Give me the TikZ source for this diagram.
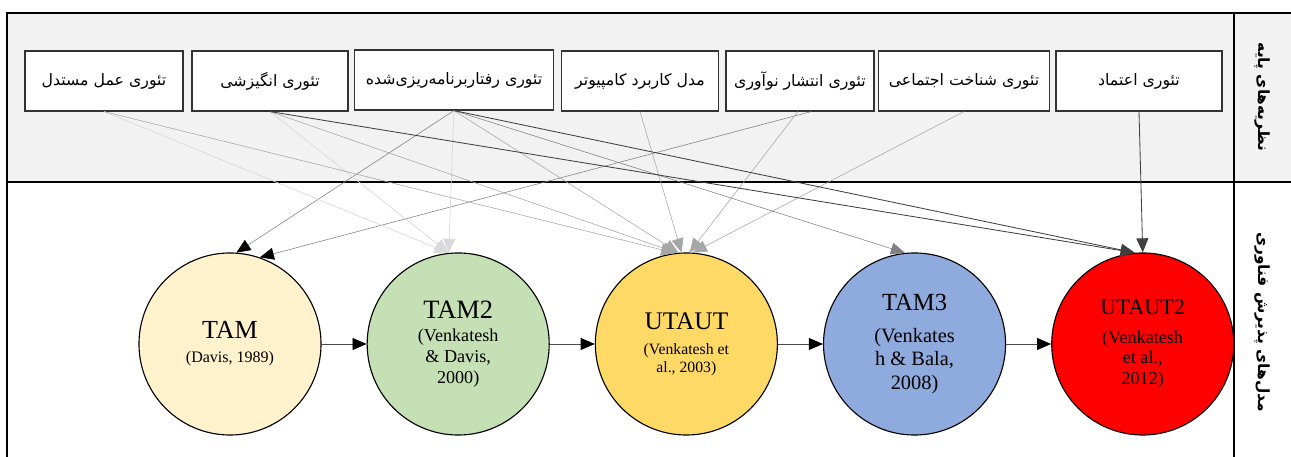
\documentclass[tikz,border=0pt]{standalone}
\usepackage{fontspec}
\setmainfont{Liberation Serif}
\newfontfamily\farsi[Script=Arabic]{DejaVu Sans}
\TeXXeTstate=1
\usetikzlibrary{arrows.meta,positioning}
\definecolor{panelgray}{HTML}{F2F2F2}
\definecolor{tamcol}{HTML}{FFF2CC}
\definecolor{tamtwocol}{HTML}{C5E0B4}
\definecolor{utautcol}{HTML}{FFD966}
\definecolor{tamthreecol}{HTML}{8FAADC}
\definecolor{utauttwocol}{HTML}{FF0000}
\newcommand{\fa}[1]{{\farsi\beginR #1\endR}}
\newcommand{\fsz}[2]{\fontsize{#1}{#2}\selectfont}

\begin{document}
\begin{tikzpicture}[x=0.025cm,y=-0.025cm,node distance=1.125cm,
  tip/.style={-{Triangle[length=10pt,width=8.5pt,color=#1]}},
  theory/.style={draw=black!80,fill=white,line width=0.8pt,minimum height=1.5cm,inner sep=2pt,font=\farsi\fsz{11.2}{13}},
  model/.style={circle,draw=black,line width=0.8pt,minimum size=4.55cm,inner sep=0pt,align=center},
  head/.style={rotate=-90,font=\farsi\bfseries\fsz{11}{13}},
  flow/.style={tip=black,draw=black!70,line width=0.6pt},
  totam/.style={tip=black,draw=gray,line width=0.4pt},
  totamtwo/.style={tip=black!15,draw=black!15,line width=0.5pt},
  toutaut/.style={tip=black!35,draw=black!35,line width=0.4pt},
  totamthree/.style={tip=black!50,draw=black!50,line width=0.4pt},
  toutauttwo/.style={tip=black!75,draw=black!75,line width=0.6pt}]
  \useasboundingbox (0,0) rectangle (1291,457);
  % panels
  \fill[panelgray] (7,13) rectangle (1291,182);
  \draw[line width=1pt] (1291,13) -- (7,13) -- (7,457);
  \draw[line width=1pt] (7,182) -- (1291,182);
  \draw[line width=1pt] (1234,13) -- (1234,457);
  \node[head] (basehead) at (1262,97) {\fa{نظریه‌های پایه}};
  \node[head] (modelhead) at (1262,322) {\fa{مدل‌های پذیرش فناوری}};
  % theories
  \node[theory,minimum width=3.95cm] (tra) at (104,81) {\fa{تئوری عمل مستدل}};
  \node[theory,minimum width=3.9cm] (mm) at (270,81) {\fa{تئوری انگیزشی}};
  \node[theory,minimum width=4.975cm] (tpb) at (454,80) {\fa{تئوری رفتاربرنامه‌ریزی‌شده}};
  \node[theory,minimum width=3.925cm] (mpcu) at (640,81) {\fa{مدل کاربرد کامپیوتر}};
  \node[theory,minimum width=3.7cm] (idt) at (800,81) {\fa{تئوری انتشار نوآوری}};
  \node[theory,minimum width=4.275cm] (sct) at (964,81) {\fa{تئوری شناخت اجتماعی}};
  \node[theory,minimum width=4.15cm] (trust) at (1139,81) {\fa{تئوری اعتماد}};
  % models
  \node[model,fill=tamcol,font=\fsz{11.4}{14}] (tam) at (230,344)
    {{\fsz{18.5}{20}TAM}\\[3pt](Davis, 1989)};
  \node[model,fill=tamtwocol,right=of tam,font=\fsz{12.9}{15}] (tam2)
    {{\fsz{18.8}{22}TAM2}\\[1.5pt](Venkatesh\\\& Davis,\\2000)};
  \node[model,fill=utautcol,right=of tam2,font=\fsz{11.2}{12.8}] (utaut)
    {{\fsz{18}{20}UTAUT}\\[5pt](Venkatesh et\\al., 2003)};
  \node[model,fill=tamthreecol,right=of utaut,font=\fsz{14.5}{16.7}] (tam3)
    {{\fsz{17.5}{20}TAM3}\\[6pt](Venkates\\h \& Bala,\\2008)};
  \node[model,fill=utauttwocol,right=of tam3,font=\fsz{12.9}{14.6}] (utaut2)
    {{\fsz{15.8}{18}UTAUT2}\\[6pt](Venkatesh\\et al.,\\2012)};
  % model sequence
  \path (tam) edge[flow] (tam2);
  \path (tam2) edge[flow] (utaut);
  \path (utaut) edge[flow] (tam3);
  \path (tam3) edge[flow] (utaut2);
  % theories into models
  \path (tpb.south) edge[totam] (tam.86);
  \path ([xshift=8pt]idt.south) edge[totam] (tam.71);
  \path (tra.south) edge[totamtwo] (tam2.96);
  \path (mm.south) edge[totamtwo] (tam2.96);
  \path (tpb.south) edge[totamtwo] (tam2.96);
  \path (tra.south) edge[toutaut] (utaut.97);
  \path (mm.south) edge[toutaut] (utaut.96);
  \path (tpb.south) edge[toutaut] (utaut.95);
  \path (mpcu.south) edge[toutaut] (utaut.93);
  \path ([xshift=-1.5pt]idt.south) edge[toutaut] (utaut.88);
  \path (sct.south) edge[toutaut] (utaut.86);
  \path (tpb.south) edge[totamthree] (tam3.96);
  \path (mm.south) edge[toutauttwo] (utaut2.95);
  \path (tpb.south) edge[toutauttwo] (utaut2.95);
  \path (trust.south) edge[toutauttwo] (utaut2.north);
\end{tikzpicture}
\end{document}
